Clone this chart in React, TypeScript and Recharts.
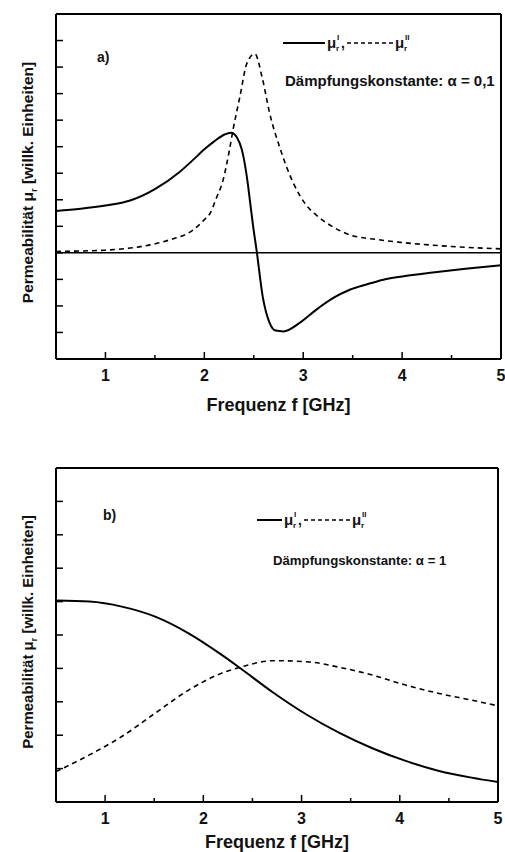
import React from 'react';
import {
  LineChart,
  Line,
  XAxis,
  YAxis,
  ReferenceLine,
  Label,
} from 'recharts';

// panel a) – damping 0.1
const aRealF = [0.5, 0.75, 1.0, 1.25, 1.5, 1.75, 1.9, 2.0, 2.1, 2.2, 2.27, 2.33, 2.38, 2.44, 2.46, 2.49, 2.53, 2.59, 2.66, 2.72, 2.8, 2.96, 3.13, 3.3, 3.47, 3.64, 3.8, 4.0, 4.31, 4.64, 5.0];
const aRealV = [1.58, 1.66, 1.78, 1.97, 2.4, 3.05, 3.55, 3.9, 4.2, 4.45, 4.53, 4.35, 3.88, 2.6, 2.0, 1.1, 0.05, -1.64, -2.64, -2.93, -2.96, -2.65, -2.15, -1.71, -1.39, -1.19, -1.02, -0.89, -0.74, -0.6, -0.47];
const aImagF = [0.5, 0.75, 1.0, 1.25, 1.45, 1.65, 1.89, 2.0, 2.06, 2.12, 2.19, 2.25, 2.29, 2.36, 2.43, 2.51, 2.59, 2.66, 2.76, 2.9, 3.03, 3.13, 3.3, 3.47, 3.75, 4.0, 4.5, 5.0];
const aImagV = [0.05, 0.07, 0.1, 0.18, 0.3, 0.49, 0.87, 1.25, 1.5, 2.05, 2.75, 3.8, 4.63, 5.89, 7.14, 7.5, 6.52, 5.27, 4.0, 2.63, 1.8, 1.43, 0.98, 0.68, 0.5, 0.39, 0.24, 0.15];

// panel b) – damping 1
const bF = [0.5, 0.84, 1.17, 1.51, 1.85, 2.18, 2.37, 2.71, 3.05, 3.39, 3.72, 4.06, 4.4, 4.73, 5.0];
const bRealV = [6.03, 6.0, 5.85, 5.55, 5.05, 4.42, 4.02, 3.28, 2.62, 2.06, 1.61, 1.23, 0.93, 0.73, 0.6];
const bImagV = [0.91, 1.41, 1.96, 2.66, 3.35, 3.85, 4.03, 4.23, 4.2, 4.03, 3.8, 3.5, 3.25, 3.05, 2.88];

const xTicks = [1, 1.5, 2, 2.5, 3, 3.5, 4, 4.5, 5];
const aYTicks = [-3, -2, -1, 0, 1, 2, 3, 4, 5, 6, 7, 8];
const bYTicks = [1, 2, 3, 4, 5, 6, 7, 8, 9];

const xTitle = 'Frequenz f [GHz]';
const dampA = 'Dämpfungskonstante: α = 0,1';
const dampB = 'Dämpfungskonstante: α = 1';

const toRows = (f: number[], v: number[]) => f.map((x, i) => ({ f: x, v: v[i] }));

const FONT = "'Liberation Sans', Arial, Helvetica, sans-serif";
const W = 505;

// ticks point inwards, so they are drawn by hand
const BottomTick = (props: any) => {
  const { x, y, payload } = props;
  const major = Number.isInteger(payload.value);
  return (
    <g>
      <line x1={x} x2={x} y1={y} y2={y - (major ? 7 : 4)} stroke="#000" strokeWidth={1.5} />
      {major && (
        <text x={x} y={y + 22} textAnchor="middle" fontFamily={FONT} fontWeight="bold" fontSize={16} fill="#111">
          {payload.value}
        </text>
      )}
    </g>
  );
};

const TopTick = (props: any) => {
  const { x, y, payload } = props;
  const major = Number.isInteger(payload.value);
  return <line x1={x} x2={x} y1={y} y2={y + (major ? 6 : 4)} stroke="#000" strokeWidth={1.5} />;
};

const LeftTick = (props: any) => {
  const { x, y } = props;
  return <line x1={x} x2={x + 7} y1={y} y2={y} stroke="#000" strokeWidth={1.5} />;
};

const RightTick = (props: any) => {
  const { x, y } = props;
  return <line x1={x} x2={x - 5} y1={y} y2={y} stroke="#000" strokeWidth={1.5} />;
};

const YTitle = (props: any) => {
  const vb = props.viewBox;
  const cy = vb.y + vb.height / 2 + props.shift;
  const cx = 33;
  return (
    <text
      x={cx}
      y={cy}
      transform={`rotate(-90 ${cx} ${cy})`}
      textAnchor="middle"
      fontFamily={FONT}
      fontWeight="bold"
      fontSize={props.size}
      fill="#111"
    >
      Permeabilität μ
      <tspan fontSize={props.size * 0.6} dy={4}>r</tspan>
      <tspan dy={-4}> [willk. Einheiten]</tspan>
    </text>
  );
};

const XTitle = (props: any) => {
  const vb = props.viewBox;
  return (
    <text x={vb.x + vb.width / 2} y={vb.y + props.gap} textAnchor="middle" fontFamily={FONT} fontWeight="bold" fontSize={18} fill="#111">
      {xTitle}
    </text>
  );
};

const axisLine = { stroke: '#000', strokeWidth: 2 };

type PanelProps = {
  real: { f: number; v: number }[];
  imag: { f: number; v: number }[];
  yDomain: [number, number];
  yTicks: number[];
  height: number;
  margin: { top: number; right: number; bottom: number; left: number };
  zero?: boolean;
  titleGap: number;
  yShift: number;
  ySize: number;
};

// axes are 1px thick: recharts skips an axis of size 0
const Panel = ({ real, imag, yDomain, yTicks, height, margin, zero, titleGap, yShift, ySize }: PanelProps) => (
  <LineChart width={W} height={height} margin={margin}>
    <XAxis
      xAxisId="b"
      dataKey="f"
      type="number"
      domain={[0.5, 5]}
      ticks={xTicks}
      interval={0}
      height={1}
      tickSize={0}
      tickMargin={0}
      tickLine={false}
      axisLine={axisLine}
      tick={<BottomTick />}
      allowDataOverflow
    >
      <Label content={<XTitle gap={titleGap} />} />
    </XAxis>
    <XAxis
      xAxisId="t"
      orientation="top"
      dataKey="f"
      type="number"
      domain={[0.5, 5]}
      ticks={xTicks}
      interval={0}
      height={1}
      tickSize={0}
      tickMargin={0}
      tickLine={false}
      axisLine={axisLine}
      tick={<TopTick />}
    />
    <YAxis
      yAxisId="l"
      type="number"
      domain={yDomain}
      ticks={yTicks}
      interval={0}
      width={1}
      tickSize={0}
      tickMargin={0}
      tickLine={false}
      axisLine={axisLine}
      tick={<LeftTick />}
      allowDataOverflow
    >
      <Label content={<YTitle shift={yShift} size={ySize} />} />
    </YAxis>
    <YAxis
      yAxisId="r"
      orientation="right"
      type="number"
      domain={yDomain}
      ticks={yTicks}
      interval={0}
      width={1}
      tickSize={0}
      tickMargin={0}
      tickLine={false}
      axisLine={axisLine}
      tick={<RightTick />}
    />
    {zero && <ReferenceLine y={0} xAxisId="b" yAxisId="l" stroke="#000" strokeWidth={1.5} />}
    <Line
      data={real}
      dataKey="v"
      xAxisId="b"
      yAxisId="l"
      type="monotone"
      stroke="#000"
      strokeWidth={2}
      dot={false}
      isAnimationActive={false}
    />
    <Line
      data={imag}
      dataKey="v"
      xAxisId="b"
      yAxisId="l"
      type="monotone"
      stroke="#000"
      strokeWidth={1.6}
      strokeDasharray="5 4"
      dot={false}
      isAnimationActive={false}
    />
  </LineChart>
);

const Mu = ({ x, y, sup }: { x: number; y: number; sup: string }) => (
  <g fontFamily={FONT} fill="#111">
    <text x={x} y={y} fontSize={15} fontWeight="bold">μ</text>
    <text x={x + 10} y={y - 8} fontSize={8} fontWeight="bold">{sup}</text>
    <text x={x + 9} y={y + 3} fontSize={8} fontWeight="bold">r</text>
  </g>
);

const Notes = ({ tag, tagX, tagY, legX, legY, solidW, dashW, damp, dampX, dampY, dampSize }: any) => {
  const muA = legX + solidW + 2;
  const dashStart = muA + 20;
  const muB = dashStart + dashW + 2;
  return (
    <svg width={W} height={432} style={{ position: 'absolute', left: 0, top: 0, pointerEvents: 'none' }}>
      <text x={tagX} y={tagY} fontFamily={FONT} fontWeight="bold" fontSize={14} fill="#111">{tag}</text>
      <line x1={legX} x2={legX + solidW} y1={legY} y2={legY} stroke="#000" strokeWidth={2} />
      <Mu x={muA} y={legY + 5} sup="I" />
      <text x={muA + 14} y={legY + 5} fontFamily={FONT} fontWeight="bold" fontSize={14} fill="#111">,</text>
      <line x1={dashStart} x2={dashStart + dashW} y1={legY} y2={legY} stroke="#000" strokeWidth={1.4} strokeDasharray="4 3" />
      <Mu x={muB} y={legY + 5} sup="II" />
      <text x={dampX} y={dampY} fontFamily={FONT} fontWeight="bold" fontSize={dampSize} fill="#111">{damp}</text>
    </svg>
  );
};

export default function App() {
  return (
    <div style={{ position: 'absolute', left: 0, top: 0, width: W, height: 852, background: '#fff' }}>
      <div style={{ position: 'absolute', left: 0, top: 0 }}>
        <Panel
          real={toRows(aRealF, aRealV)}
          imag={toRows(aImagF, aImagV)}
          yDomain={[-4, 9]}
          yTicks={aYTicks}
          height={420}
          margin={{ top: 13, right: 3, bottom: 60, left: 55 }}
          zero
          titleGap={52}
          yShift={-4}
          ySize={15.5}
        />
        <Notes
          tag="a)"
          tagX={97}
          tagY={62}
          legX={283}
          legY={43}
          solidW={42}
          dashW={46}
          damp={dampA}
          dampX={285}
          dampY={86}
          dampSize={15}
        />
      </div>
      <div style={{ position: 'absolute', left: 0, top: 420 }}>
        <Panel
          real={toRows(bF, bRealV)}
          imag={toRows(bF, bImagV)}
          yDomain={[0, 10]}
          yTicks={bYTicks}
          height={432}
          margin={{ top: 47, right: 6, bottom: 49, left: 55 }}
          titleGap={46}
          yShift={-3}
          ySize={15}
        />
        <Notes
          tag="b)"
          tagX={103}
          tagY={100}
          legX={257}
          legY={100}
          solidW={25}
          dashW={46}
          damp={dampB}
          dampX={273}
          dampY={145}
          dampSize={13.2}
        />
      </div>
    </div>
  );
}
